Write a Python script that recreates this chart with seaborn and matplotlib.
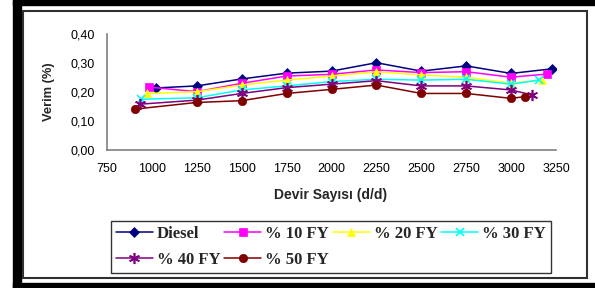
import matplotlib
matplotlib.use("Agg")
import matplotlib.pyplot as plt
import seaborn as sns
import numpy as np
from matplotlib.patches import Rectangle
from matplotlib.ticker import FuncFormatter

sns.set_style("white")
plt.rcParams['font.family'] = ['Liberation Sans', 'DejaVu Sans']

series_names = ["Diesel", "% 10 FY", "% 20 FY", "% 30 FY", "% 40 FY", "% 50 FY"]
rpm_diesel = [1025, 1250, 1500, 1750, 2000, 2250, 2500, 2750, 3000, 3228]
eff_diesel = [0.214, 0.221, 0.245, 0.265, 0.272, 0.301, 0.272, 0.290, 0.264, 0.280]
rpm_10 = [984, 1250, 1500, 1750, 2000, 2250, 2500, 2750, 3000, 3200]
eff_10 = [0.217, 0.201, 0.230, 0.255, 0.261, 0.276, 0.267, 0.270, 0.251, 0.262]
rpm_20 = [973, 1250, 1500, 1750, 2000, 2250, 2500, 2750, 3000, 3172]
eff_20 = [0.195, 0.201, 0.224, 0.241, 0.255, 0.270, 0.259, 0.251, 0.230, 0.241]
rpm_30 = [939, 1250, 1500, 1750, 2000, 2250, 2500, 2750, 3000, 3153]
eff_30 = [0.175, 0.180, 0.207, 0.221, 0.236, 0.244, 0.241, 0.244, 0.227, 0.241]
rpm_40 = [934, 1250, 1500, 1750, 2000, 2250, 2500, 2750, 3000, 3116]
eff_40 = [0.158, 0.172, 0.195, 0.215, 0.227, 0.239, 0.221, 0.221, 0.207, 0.190]
rpm_50 = [906, 1250, 1500, 1750, 2000, 2250, 2500, 2750, 3000, 3077]
eff_50 = [0.141, 0.164, 0.170, 0.195, 0.209, 0.224, 0.195, 0.195, 0.178, 0.184]

x_ticks = [750, 1000, 1250, 1500, 1750, 2000, 2250, 2500, 2750, 3000, 3250]
y_ticks = [0.0, 0.1, 0.2, 0.3, 0.4]

xs = [rpm_diesel, rpm_10, rpm_20, rpm_30, rpm_40, rpm_50]
ys = [eff_diesel, eff_10, eff_20, eff_30, eff_40, eff_50]
colors = ["#000080", "#FF00FF", "#FFFF00", "#00FFFF", "#800080", "#800000"]
markers = ["D", "s", "^", "x", (6, 2, 0), "o"]
msizes = [5, 6, 6, 6, 8, 6]

W, H = 595, 288
fig = plt.figure(figsize=(W / 100, H / 100), dpi=100)

# frame decorations
fig.patches.append(Rectangle((13 / W, 0), 8 / W, 1, transform=fig.transFigure, color="black", zorder=0))
fig.patches.append(Rectangle((13 / W, 1 - 5 / H), 1, 5 / H, transform=fig.transFigure, color="black", zorder=0))
fig.patches.append(Rectangle((13 / W, 0), 1, 5 / H, transform=fig.transFigure, color="black", zorder=0))
fig.patches.append(Rectangle((23 / W, 1 - 278 / H), (587 - 23) / W, (278 - 11) / H, transform=fig.transFigure,
                             fill=False, edgecolor="#303030", linewidth=1.5, zorder=0))

ax = fig.add_axes([107 / W, 1 - 150 / H, (556 - 107) / W, (150 - 34) / H])
ax.set_facecolor("none")

for xv, yv, c, m, ms, name in zip(xs, ys, colors, markers, msizes, series_names):
    sns.lineplot(x=xv, y=yv, ax=ax, color=c, marker=m, markersize=ms, linewidth=1.1,
                 markeredgecolor=c, markeredgewidth=1.2 if m in ("x", (6, 2, 0)) else 0.5,
                 label=name, legend=False, sort=False)

ax.set_xlim(750, 3250)
ax.set_ylim(0, 0.40)
ax.set_xticks(x_ticks)
ax.set_yticks(y_ticks)
ax.yaxis.set_major_formatter(FuncFormatter(lambda v, p: f"{v:.2f}".replace(".", ",")))
for s in ("top", "right"):
    ax.spines[s].set_visible(False)
for s in ("left", "bottom"):
    ax.spines[s].set_color("#808080")
    ax.spines[s].set_linewidth(1.2)
ax.tick_params(axis="both", direction="out", length=4, width=1, color="#808080", labelsize=9,
               labelcolor="black")
ax.tick_params(axis="y", pad=5)
ax.tick_params(axis="x", pad=5)
ax.set_xlabel("Devir Sayısı (d/d)", fontsize=10, fontweight="bold")
ax.set_ylabel("Verim (%)", fontsize=9.3, fontweight="bold")
ax.xaxis.set_label_coords(0.497, -0.33)
ax.yaxis.set_label_coords(-0.116, 0.5)

h, l = ax.get_legend_handles_labels()
order = [0, 4, 1, 5, 2, 3]
leg = fig.legend([h[i] for i in order], [l[i] for i in order], ncol=4, loc="lower left",
                 bbox_to_anchor=(111 / W, 1 - 273 / H, (551 - 111) / W, 51 / H), mode="expand",
                 borderaxespad=0, frameon=True, fancybox=False, handlelength=2.2, handletextpad=0.25,
                 columnspacing=0.4, labelspacing=0.6, borderpad=0.3,
                 prop={"family": "Liberation Serif", "weight": "bold", "size": 12})
leg.get_frame().set_edgecolor("black")
leg.get_frame().set_linewidth(1.0)

fig.savefig("out.png", dpi=100)
